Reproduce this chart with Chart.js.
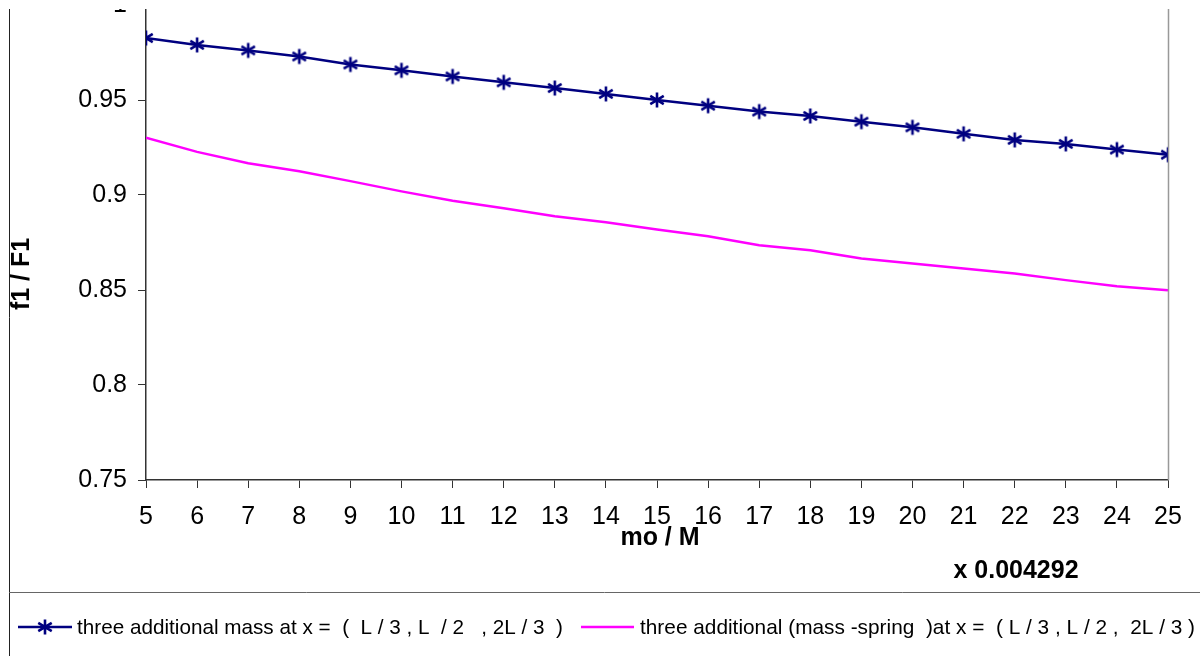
<!DOCTYPE html>
<html>
<head>
<meta charset="utf-8">
<script src="https://cdn.jsdelivr.net/npm/chart.js@4"></script>
<style>
  html, body { margin: 0; padding: 0; background: #fff; }
  /* the reference is cut off a little above the plot, so clip the top */
  #wrap { position: absolute; left: 0; top: 9px; width: 1200px; height: 647px; overflow: hidden; }
  #myChart { position: absolute; left: 0; top: -30px; }
</style>
</head>
<body>
<div id="wrap"><canvas id="myChart" width="1200" height="677"></canvas></div>
<script>
// mo / M  (x 0.004292)
const massRatio = [5, 6, 7, 8, 9, 10, 11, 12, 13, 14, 15, 16, 17, 18, 19, 20, 21, 22, 23, 24, 25];

// f1 / F1, three additional masses
const massOnly = [0.9826, 0.9790, 0.9761, 0.9729, 0.9687, 0.9656, 0.9624, 0.9593, 0.9563, 0.9532, 0.9500,
                  0.9470, 0.9439, 0.9416, 0.9386, 0.9356, 0.9322, 0.9290, 0.9269, 0.9239, 0.9212];

// f1 / F1, three additional mass-spring systems
const massSpring = [0.9301, 0.9227, 0.9167, 0.9125, 0.9073, 0.9019, 0.8970, 0.8930, 0.8888, 0.8856, 0.8818,
                    0.8783, 0.8735, 0.8709, 0.8666, 0.8639, 0.8613, 0.8587, 0.8552, 0.8520, 0.8499];

const yTicks = [0.75, 0.8, 0.85, 0.9, 0.95, 1];

const seriesNames = [
  'three additional mass at x =  (  L / 3 , L  / 2   , 2L / 3  )',
  'three additional (mass -spring  )at x =  ( L / 3 , L / 2 ,  2L / 3 )'
];

const navy = '#000080';
const magenta = '#FF00FF';

// canvas sits 21px above the page top
const OFF = 21;

// asterisk marker (vertical stroke + two diagonals)
function makeStar(size, color) {
  const c = document.createElement('canvas');
  c.width = size; c.height = size;
  const g = c.getContext('2d');
  const m = size / 2, r = size / 2 - 1.5;
  g.strokeStyle = color;
  g.lineWidth = 2.6;
  g.beginPath();
  g.moveTo(m, m - r); g.lineTo(m, m + r);
  g.moveTo(m - r * 0.9, m - r * 0.55); g.lineTo(m + r * 0.9, m + r * 0.55);
  g.moveTo(m - r * 0.9, m + r * 0.55); g.lineTo(m + r * 0.9, m - r * 0.55);
  g.stroke();
  return c;
}
const star = makeStar(18, navy);

// extra texts, frame and legend drawn on top of the chart
const extras = {
  id: 'extras',
  afterDraw(chart) {
    const ctx = chart.ctx;
    const area = chart.chartArea;
    ctx.save();

    // right edge of plot area
    ctx.strokeStyle = '#999';
    ctx.lineWidth = 1.5;
    ctx.beginPath();
    ctx.moveTo(area.right + 0.5, area.top);
    ctx.lineTo(area.right + 0.5, area.bottom);
    ctx.stroke();

    // outer frame and legend separator
    ctx.strokeStyle = '#222';
    ctx.lineWidth = 1;
    ctx.beginPath();
    ctx.moveTo(9.5, 0);
    ctx.lineTo(9.5, 677);
    ctx.stroke();
    ctx.strokeStyle = '#666';
    ctx.beginPath();
    ctx.moveTo(9, 592.5 + OFF);
    ctx.lineTo(1200, 592.5 + OFF);
    ctx.stroke();

    // axis titles
    ctx.fillStyle = '#000';
    ctx.font = 'bold 25px "Liberation Sans", Arial, sans-serif';
    ctx.textAlign = 'center';
    ctx.textBaseline = 'middle';
    ctx.fillText('mo / M', 660, 538 + OFF);
    ctx.fillText('x 0.004292', 1016, 571 + OFF);
    ctx.save();
    ctx.translate(22, 274 + OFF);
    ctx.rotate(-Math.PI / 2);
    ctx.fillText('f1 / F1', 0, 0);
    ctx.restore();

    // legend
    const ly = 627 + OFF;
    ctx.lineWidth = 2.5;
    ctx.strokeStyle = navy;
    ctx.beginPath(); ctx.moveTo(18, ly); ctx.lineTo(72, ly); ctx.stroke();
    ctx.drawImage(star, 45 - 9, ly - 9);
    ctx.strokeStyle = magenta;
    ctx.beginPath(); ctx.moveTo(581, ly); ctx.lineTo(634, ly); ctx.stroke();

    ctx.font = '21px "Liberation Sans", Arial, sans-serif';
    ctx.textAlign = 'left';
    ctx.fillText(seriesNames[0], 77, ly + 1, 486);
    ctx.fillText(seriesNames[1], 640, ly + 1, 555);

    ctx.restore();
  }
};

const ctx = document.getElementById('myChart').getContext('2d');

const chart = new Chart(ctx, {
  type: 'line',
  data: {
    datasets: [{
      label: seriesNames[0],
      data: massRatio.map((x, i) => ({ x: x, y: massOnly[i] })),
      borderColor: navy,
      backgroundColor: navy,
      borderWidth: 2.5,
      pointStyle: star,
      pointRadius: 9,
      tension: 0,
      fill: false
    }, {
      label: seriesNames[1],
      data: massRatio.map((x, i) => ({ x: x, y: massSpring[i] })),
      borderColor: magenta,
      backgroundColor: magenta,
      borderWidth: 2.5,
      pointRadius: 0,
      tension: 0,
      fill: false
    }]
  },
  options: {
    responsive: false,
    animation: false,
    devicePixelRatio: 1,
    layout: { padding: { top: 20, left: 0, right: 32, bottom: 0 } },
    plugins: {
      legend: { display: false },
      tooltip: { enabled: false }
    },
    scales: {
      x: {
        type: 'linear',
        min: 5,
        max: 25,
        afterBuildTicks: s => { s.ticks = massRatio.map(v => ({ value: v })); },
        afterFit: s => { s.height = 176; },
        grid: { drawOnChartArea: false, drawTicks: true, tickLength: 8, color: '#333' },
        border: { display: true, color: '#333', width: 1.5 },
        ticks: {
          color: '#000',
          padding: 14,
          maxRotation: 0,
          font: { family: '"Liberation Sans", Arial, sans-serif', size: 25 }
        }
      },
      y: {
        type: 'linear',
        min: 0.75,
        max: 1,
        afterBuildTicks: s => { s.ticks = yTicks.map(v => ({ value: v })); },
        afterFit: s => { s.width = 146; },
        grid: { drawOnChartArea: false, drawTicks: true, tickLength: 8, color: '#333' },
        border: { display: true, color: '#333', width: 1.5 },
        ticks: {
          color: '#000',
          padding: 11,
          callback: v => String(v),
          font: { family: '"Liberation Sans", Arial, sans-serif', size: 25 }
        }
      }
    }
  },
  plugins: [extras]
});
</script>
</body>
</html>
